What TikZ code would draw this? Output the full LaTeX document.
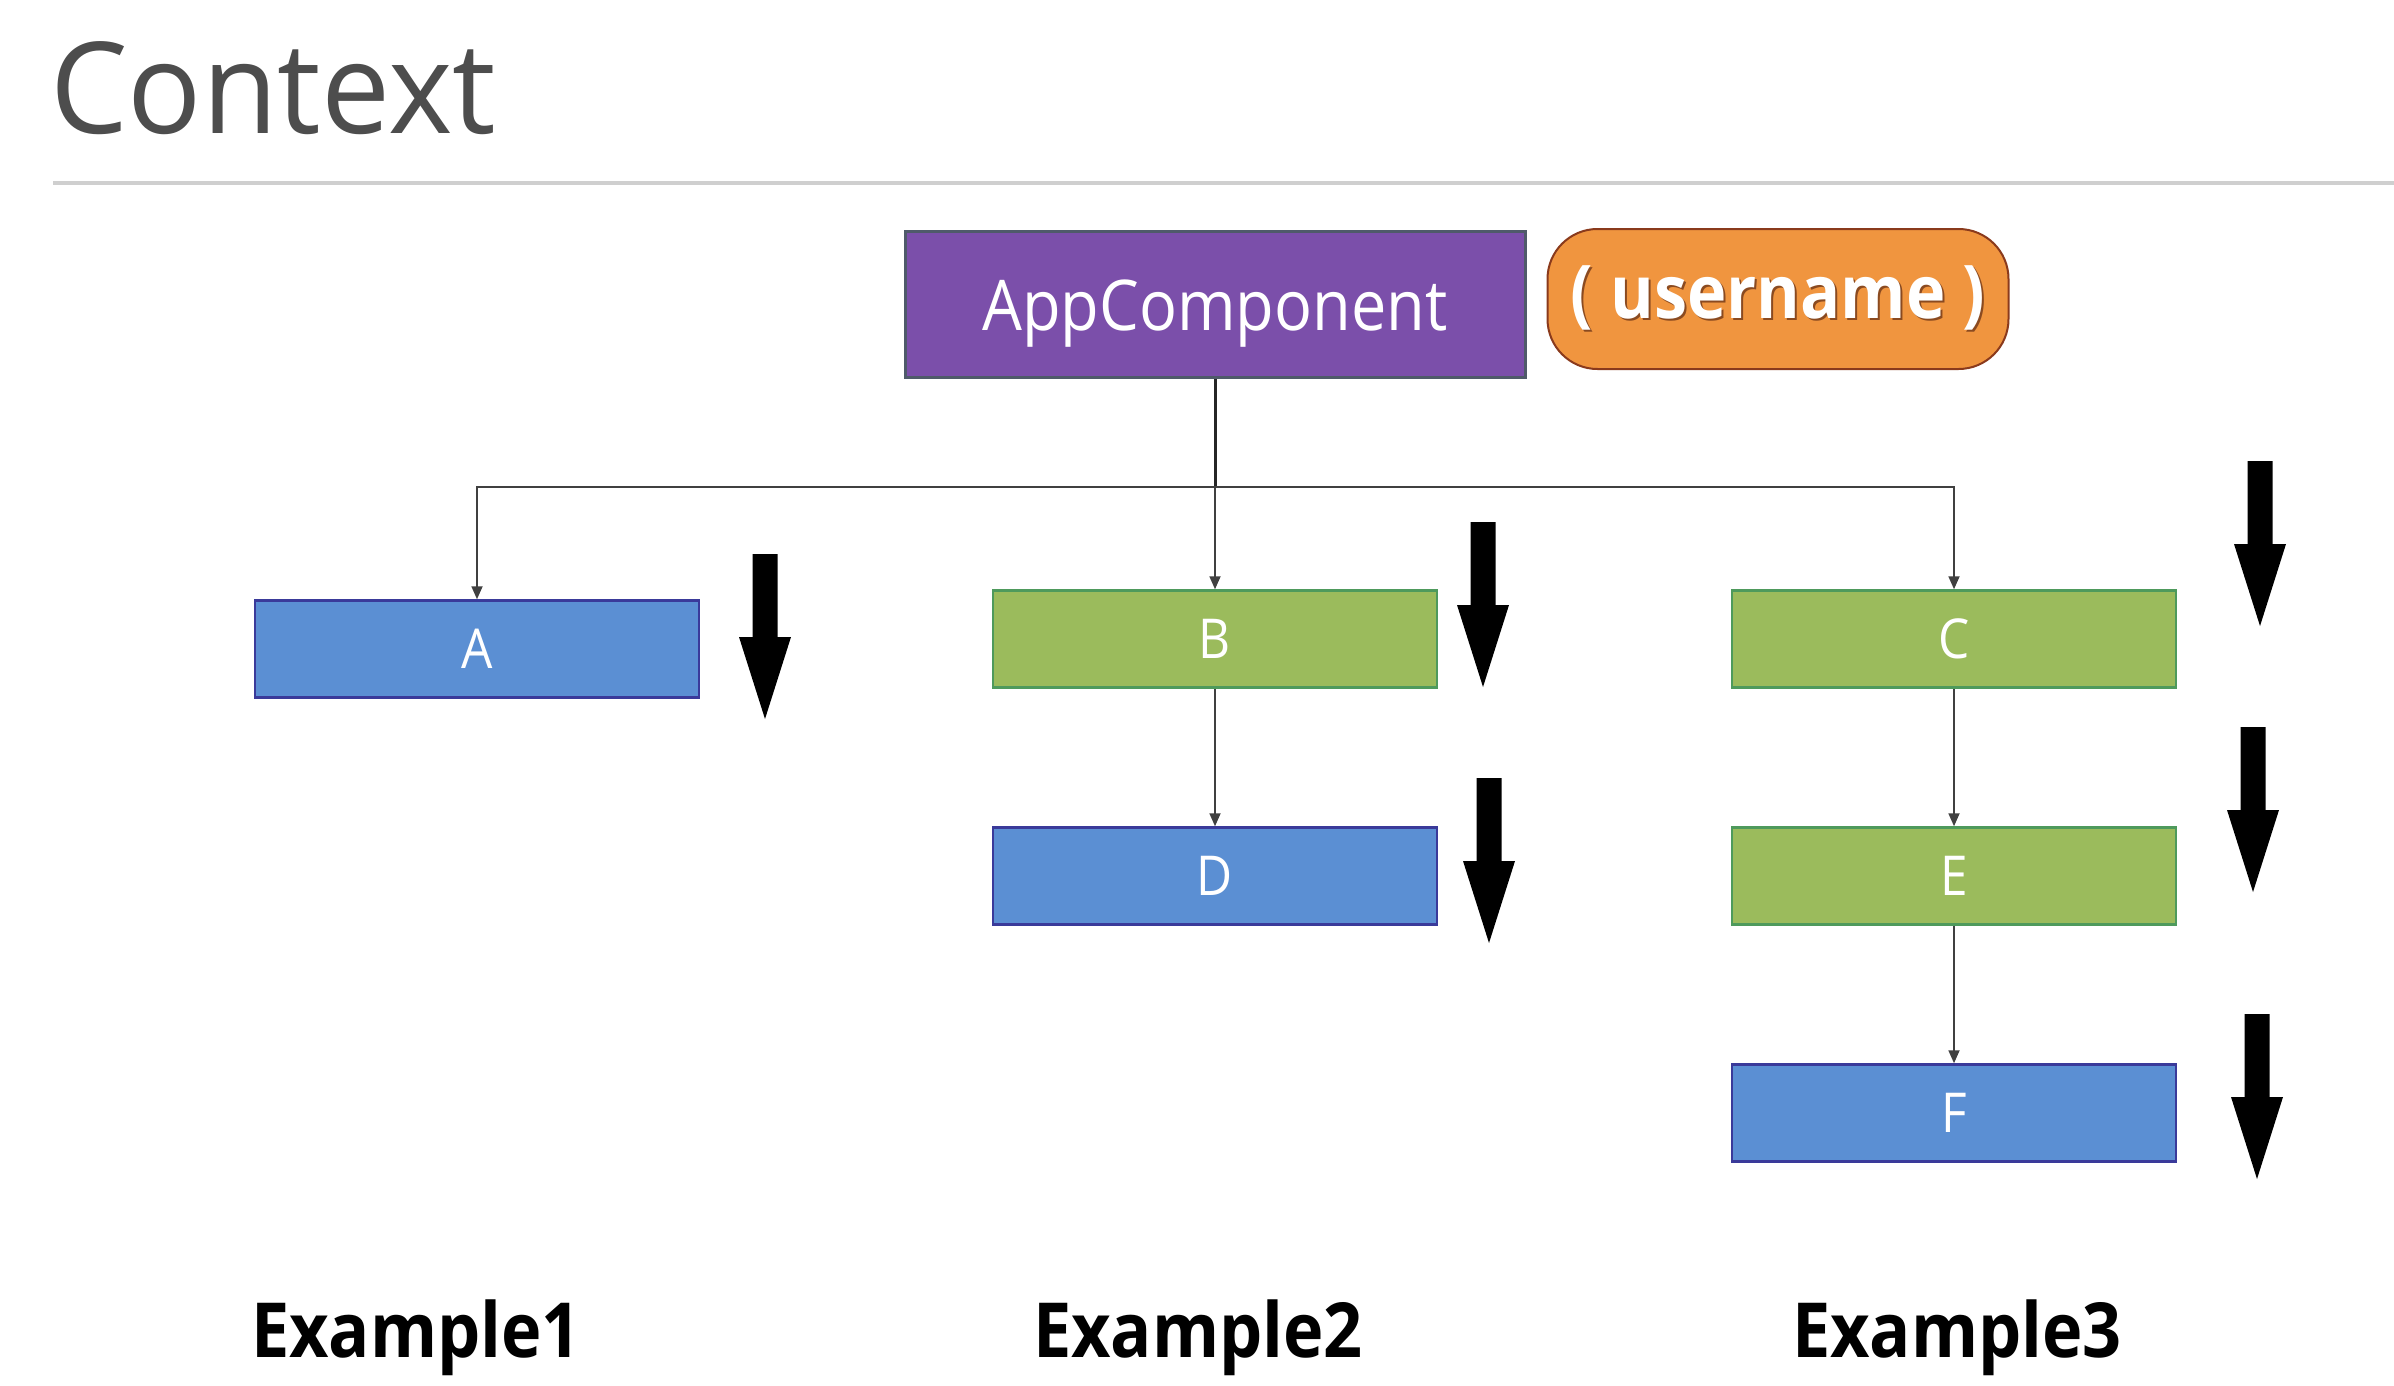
\documentclass[tikz,border=0pt]{standalone}
\usepackage{fontspec}
\setmainfont{Open Sans}[FakeStretch=0.9]
\newfontfamily\titlefont{Open Sans}[FakeStretch=0.97]
\usetikzlibrary{arrows.meta,calc}
\definecolor{titlegray}{HTML}{4D4D4D}
\definecolor{rulegray}{HTML}{CFCFCF}
\definecolor{appfill}{HTML}{7B4FAA}
\definecolor{appdraw}{HTML}{4F5A6A}
\definecolor{orfill}{HTML}{F0953F}
\definecolor{ordraw}{HTML}{8A3A1C}
\definecolor{bluefill}{HTML}{5B8FD3}
\definecolor{bluedraw}{HTML}{3A3A9A}
\definecolor{greenfill}{HTML}{9BBB5C}
\definecolor{greendraw}{HTML}{4E9A5C}
\definecolor{conngray}{HTML}{404040}
\definecolor{shadowc}{HTML}{8A4A20}
\tikzset{
  comp/.style={rectangle, minimum width=444pt, minimum height=97pt, inner sep=0pt,
    line width=2.5pt, text=white, font=\fontsize{55}{60}\selectfont},
  bluebox/.style={comp, fill=bluefill, draw=bluedraw},
  greenbox/.style={comp, fill=greenfill, draw=greendraw},
  conn/.style={draw=conngray, line width=1.8pt, -{Triangle[width=11pt,length=13pt]}},
  trunk/.style={draw=black!85, line width=3pt},
  exlabel/.style={anchor=base, font=\fontsize{76}{80}\selectfont\bfseries},
  bigarrow/.pic={\fill[black] (-12.5,0) -- (12.5,0) -- (12.5,83) -- (26,83) -- (0,165)
     -- (-26,83) -- (-12.5,83) -- cycle;}
}
\begin{document}
\begin{tikzpicture}[x=1pt,y=-1pt]
\useasboundingbox (0,0) rectangle (2394,1386);
\fill[white] (0,0) rectangle (2394,1386);
% title
\node[anchor=base west, inner sep=0pt, text=titlegray, font=\fontsize{127}{130}\titlefont] (title) at (50,134) {Context};
\draw[rulegray, line width=4pt] (53,183) coordinate (r1) -- (2394,183) coordinate (r2);
% top components
\node[rectangle, minimum width=620pt, minimum height=146pt, inner sep=0pt, fill=appfill, draw=appdraw, line width=3pt, text=white, font=\fontsize{70}{74}\selectfont] (app) at (1215,304) {\raisebox{-26pt}[0pt][0pt]{AppComponent}};
\node[rectangle, rounded corners=50pt, minimum width=461pt, minimum height=140pt, inner sep=0pt, fill=orfill, draw=ordraw, line width=2pt, text=white, font=\fontsize{74}{78}\selectfont\bfseries] (user) at (1778,299) {\rlap{\kern2pt\raisebox{-2.5pt}{\color{shadowc}( username )}}( username )};
% children
\node[bluebox] (A) at (477,649) {A};
\node[greenbox] (B) at (1215,639) {B};
\node[bluebox] (D) at (1215,876) {D};
\node[greenbox] (C) at (1954,639) {C};
\node[greenbox] (E) at (1954,876) {E};
\node[bluebox] (F) at (1954,1113) {F};
% connectors
\draw[trunk] (app.south) -- (app.south |- 0,487) coordinate (j);
\draw[conn] (j) -| (A.north);
\draw[conn] (j) -- (B.north);
\draw[conn] (j) -| (C.north);
\draw[conn] (B.south) -- (D.north);
\draw[conn] (C.south) -- (E.north);
\draw[conn] (E.south) -- (F.north);
% big arrows
\pic at (765,554) {bigarrow};
\pic at (1483,522) {bigarrow};
\pic at (1489,778) {bigarrow};
\pic at (2260,461) {bigarrow};
\pic at (2253,727) {bigarrow};
\pic at (2257,1014) {bigarrow};
% labels
\node[exlabel] (ex1) at (416,1357) {Example1};
\node[exlabel] (ex2) at (1198,1357) {Example2};
\node[exlabel] (ex3) at (1957,1357) {Example3};
\end{tikzpicture}
\end{document}
